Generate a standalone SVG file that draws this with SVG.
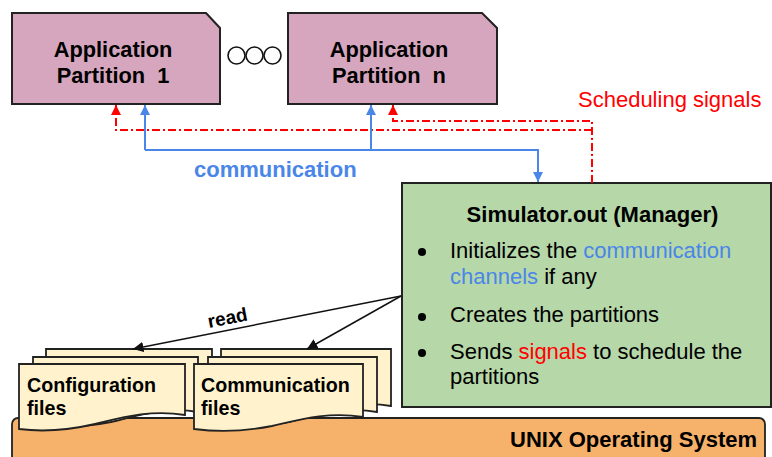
<svg xmlns="http://www.w3.org/2000/svg" width="772" height="457" viewBox="0 0 772 457">
<style>
  text { font-family: "Liberation Sans", Arial, sans-serif; }
  .b { font-weight: bold; }
  .part { fill: #d5a6bd; stroke: #222; stroke-width: 2; }
  .sheet { fill: #fff2cc; stroke: #222; stroke-width: 1.8; }
  .blue { fill: none; stroke: #4a86e8; stroke-width: 2; }
  .red { fill: none; stroke: #ff0000; stroke-width: 2; stroke-dasharray: 8 3 2 3; }
  .blk { fill: none; stroke: #111; stroke-width: 1.5; }
</style>
<defs>
  <marker id="ab" viewBox="0 0 10 10" refX="10" refY="5" markerWidth="5" markerHeight="5" orient="auto" markerUnits="strokeWidth">
    <path d="M0,0 L10,5 L0,10 Z" fill="#4a86e8"/>
  </marker>
  <marker id="ar" viewBox="0 0 10 10" refX="10" refY="5" markerWidth="5" markerHeight="5" orient="auto" markerUnits="strokeWidth">
    <path d="M0,0 L10,5 L0,10 Z" fill="#ff0000"/>
  </marker>
  <marker id="ak" viewBox="0 0 10 10" refX="10" refY="5" markerWidth="7" markerHeight="7" orient="auto" markerUnits="strokeWidth">
    <path d="M0,0 L10,5 L0,10 Z" fill="#111"/>
  </marker>
</defs>

<g id="unix">
  <rect x="12" y="418" width="753" height="60" rx="6" fill="#f6b26b" stroke="#222" stroke-width="1.8"/>
  <text x="757" y="447" class="b" font-size="22" text-anchor="end" fill="#000">UNIX Operating System</text>
</g>

<g id="partition1">
  <path class="part" d="M12,13 H206 L220,28 V104 H12 Z"/>
  <text x="113" y="57" class="b" font-size="21.8" text-anchor="middle" fill="#000">Application</text>
  <text x="113" y="83" class="b" font-size="21.8" text-anchor="middle" fill="#000" xml:space="preserve">Partition  1</text>
</g>

<g id="ellipsis">
  <circle cx="236.5" cy="55.5" r="8.5" fill="none" stroke="#111" stroke-width="1.6"/>
  <circle cx="254.5" cy="55.5" r="8.5" fill="none" stroke="#111" stroke-width="1.6"/>
  <circle cx="272.5" cy="55.5" r="8.5" fill="none" stroke="#111" stroke-width="1.6"/>
</g>

<g id="partitionN">
  <path class="part" d="M288,13 H482 L497,28 V104 H288 Z"/>
  <text x="389" y="57" class="b" font-size="21.8" text-anchor="middle" fill="#000">Application</text>
  <text x="389" y="83" class="b" font-size="21.8" text-anchor="middle" fill="#000" xml:space="preserve">Partition  n</text>
</g>

<g id="manager">
  <rect x="402" y="183" width="369" height="224" fill="#b6d7a8" stroke="#222" stroke-width="2"/>
  <text x="592.5" y="222" class="b" font-size="22" text-anchor="middle" fill="#000">Simulator.out (Manager)</text>
  <circle cx="422" cy="252" r="4" fill="#000"/>
  <circle cx="422" cy="317" r="4" fill="#000"/>
  <circle cx="422" cy="353" r="4" fill="#000"/>
  <text x="450" y="258" font-size="22" fill="#000">Initializes the <tspan fill="#4a86e8">communication</tspan></text>
  <text x="450" y="284" font-size="22" fill="#000"><tspan fill="#4a86e8">channels</tspan> if any</text>
  <text x="450" y="322" font-size="22" fill="#000">Creates the partitions</text>
  <text x="450" y="359" font-size="22" fill="#000">Sends <tspan fill="#ff0000">signals</tspan> to schedule the</text>
  <text x="450" y="384" font-size="22" fill="#000">partitions</text>
</g>

<g id="configFiles">
  <path class="sheet" d="M46,349 H212 V406 C180,400 150,410 125,416 C95,422 70,422 46,420 Z"/>
  <path class="sheet" d="M33,357 H198 V412 C166,406 136,416 111,422 C81,428 56,428 33,426 Z"/>
  <path class="sheet" d="M19,364 H185 V415 C150,409 120,418 95,424 C65,431 42,432 19,429 Z"/>
  <text x="27" y="392" class="b" font-size="19.7" fill="#000">Configuration</text>
  <text x="27" y="415" class="b" font-size="19.7" fill="#000">files</text>
</g>

<g id="commFiles">
  <path class="sheet" d="M221,349 H391 V406 C358,400 328,410 302,416 C272,422 246,422 221,420 Z"/>
  <path class="sheet" d="M208,357 H377 V412 C344,406 314,416 288,422 C258,428 232,428 208,426 Z"/>
  <path class="sheet" d="M194,364 H363 V417 C328,411 298,420 272,426 C242,432 218,432 194,429 Z"/>
  <text x="201" y="392" class="b" font-size="19.7" fill="#000">Communication</text>
  <text x="201" y="415" class="b" font-size="19.7" fill="#000">files</text>
</g>

<g id="connectors">
  <path class="red" d="M592,183 V121 H393 V105" marker-end="url(#ar)"/>
  <path class="red" d="M592,130 H116 V105" marker-end="url(#ar)"/>
  <path class="blue" d="M145,150 V105" marker-end="url(#ab)"/>
  <path class="blue" d="M371,150 V105" marker-end="url(#ab)"/>
  <path class="blue" d="M145,150 H538 V182" marker-end="url(#ab)"/>
  <path class="blk" d="M401,296 L133,349" marker-end="url(#ak)"/>
  <path class="blk" d="M401,296 L307,349" marker-end="url(#ak)"/>
  <text x="194" y="177" class="b" font-size="22" fill="#4a86e8">communication</text>
  <text x="578" y="107" font-size="22" fill="#ff0000">Scheduling signals</text>
  <text x="209" y="328" class="b" font-size="19" fill="#000" transform="rotate(-11 209 328)">read</text>
</g>
</svg>
